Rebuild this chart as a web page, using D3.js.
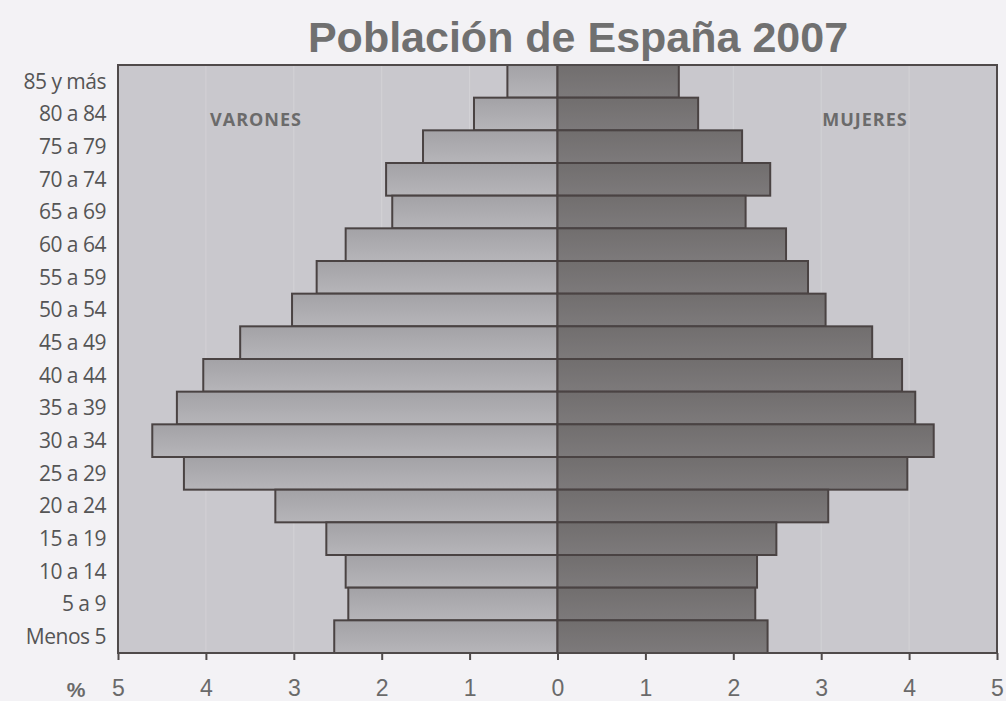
<!DOCTYPE html>
<html>
<head>
<meta charset="utf-8">
<script src="https://cdn.jsdelivr.net/npm/d3@7"></script>
<style>
  body { margin: 0; background: #f3f2f5; }
  svg { display: block; }
</style>
</head>
<body>
<div id="chart"></div>
<script>
// age groups, top to bottom
var ageGroups = ["85 y más", "80 a 84", "75 a 79", "70 a 74", "65 a 69", "60 a 64",
  "55 a 59", "50 a 54", "45 a 49", "40 a 44", "35 a 39", "30 a 34",
  "25 a 29", "20 a 24", "15 a 19", "10 a 14", "5 a 9", "Menos 5"];

// % of total population
var varones = [0.57, 0.95, 1.53, 1.95, 1.88, 2.41, 2.74, 3.02, 3.61, 4.03,
  4.33, 4.61, 4.25, 3.21, 2.63, 2.41, 2.38, 2.54];
var mujeres = [1.38, 1.60, 2.10, 2.42, 2.14, 2.60, 2.85, 3.05, 3.58, 3.92,
  4.07, 4.28, 3.98, 3.08, 2.49, 2.27, 2.25, 2.39];

var xTicks = [-5, -4, -3, -2, -1, 0, 1, 2, 3, 4, 5];

var W = 1006, H = 701;
var margin = { top: 65, right: 9, bottom: 48, left: 118 };
var width = W - margin.left - margin.right;
var height = H - margin.top - margin.bottom;

var svg = d3.select("#chart").append("svg")
  .attr("width", W)
  .attr("height", H);

var defs = svg.append("defs");
var gM = defs.append("linearGradient").attr("id", "gradM")
  .attr("x1", 0).attr("y1", 0).attr("x2", 0).attr("y2", 1);
gM.append("stop").attr("offset", "0%").attr("stop-color", "#a3a2a6");
gM.append("stop").attr("offset", "100%").attr("stop-color", "#b6b5b9");
var gF = defs.append("linearGradient").attr("id", "gradF")
  .attr("x1", 0).attr("y1", 0).attr("x2", 0).attr("y2", 1);
gF.append("stop").attr("offset", "0%").attr("stop-color", "#716e6e");
gF.append("stop").attr("offset", "100%").attr("stop-color", "#7d7a7b");

// title
svg.append("text")
  .attr("x", 578)
  .attr("y", 52)
  .attr("text-anchor", "middle")
  .style("font-family", "'Liberation Sans', Arial, sans-serif")
  .style("font-weight", "bold")
  .style("font-size", "43px")
  .style("fill", "#707070")
  .text("Población de España 2007");

var g = svg.append("g")
  .attr("transform", "translate(" + margin.left + "," + margin.top + ")");

var x = d3.scaleLinear().domain([-5, 5]).range([0, width]);
var y = d3.scaleBand().domain(ageGroups).range([0, height]).padding(0);

// plot background
g.append("rect")
  .attr("width", width)
  .attr("height", height)
  .attr("fill", "#c9c8cd");

// faint gridlines
g.selectAll(".grid")
  .data(xTicks.filter(function(d) { return Math.abs(d) < 5; }))
  .enter().append("line")
  .attr("class", "grid")
  .attr("x1", function(d) { return x(d); })
  .attr("x2", function(d) { return x(d); })
  .attr("y1", 0)
  .attr("y2", height)
  .attr("stroke", "#d3d2d6")
  .attr("stroke-width", 1);

// men bars (left)
g.selectAll(".bar-m")
  .data(varones)
  .enter().append("rect")
  .attr("class", "bar-m")
  .attr("x", function(d) { return x(-d); })
  .attr("y", function(d, i) { return y(ageGroups[i]); })
  .attr("width", function(d) { return x(0) - x(-d); })
  .attr("height", y.bandwidth())
  .attr("fill", "url(#gradM)")
  .attr("stroke", "#4a4343")
  .attr("stroke-width", 2);

// women bars (right)
g.selectAll(".bar-f")
  .data(mujeres)
  .enter().append("rect")
  .attr("class", "bar-f")
  .attr("x", x(0))
  .attr("y", function(d, i) { return y(ageGroups[i]); })
  .attr("width", function(d) { return x(d) - x(0); })
  .attr("height", y.bandwidth())
  .attr("fill", "url(#gradF)")
  .attr("stroke", "#4a4343")
  .attr("stroke-width", 2);

// frame
g.append("rect")
  .attr("width", width)
  .attr("height", height)
  .attr("fill", "none")
  .attr("stroke", "#4f4a4a")
  .attr("stroke-width", 2);

// sex labels
g.append("text")
  .attr("x", 138)
  .attr("y", 61)
  .attr("text-anchor", "middle")
  .style("font-family", "'Open Sans', sans-serif")
  .style("font-weight", "700")
  .style("font-size", "18px")
  .style("letter-spacing", "1px")
  .style("fill", "#6b6b6b")
  .text("VARONES");

g.append("text")
  .attr("x", 747)
  .attr("y", 61)
  .attr("text-anchor", "middle")
  .style("font-family", "'Open Sans', sans-serif")
  .style("font-weight", "700")
  .style("font-size", "18px")
  .style("letter-spacing", "1px")
  .style("fill", "#6b6b6b")
  .text("MUJERES");

// y labels
var yAxis = g.append("g")
  .call(d3.axisLeft(y).tickSize(0).tickPadding(12));
yAxis.select(".domain").remove();
yAxis.selectAll("text")
  .style("font-family", "'Liberation Sans Narrow', 'Open Sans', sans-serif")
  .style("font-size", "21px")
  .style("letter-spacing", "-0.5px")
  .style("fill", "#555")
  .attr("dy", "0.35em");

// x axis
var xAxis = g.append("g")
  .attr("transform", "translate(0," + height + ")")
  .call(d3.axisBottom(x).tickValues(xTicks).tickSize(7).tickPadding(20)
    .tickFormat(function(d) { return Math.abs(d); }));
xAxis.select(".domain").remove();
xAxis.selectAll("line").attr("stroke", "#4f4a4a").attr("stroke-width", 2);
xAxis.selectAll("text")
  .style("font-family", "'Liberation Sans', Arial, sans-serif")
  .style("font-size", "23px")
  .style("fill", "#6a6a6a");

svg.append("text")
  .attr("x", 76)
  .attr("y", 697)
  .attr("text-anchor", "middle")
  .style("font-family", "'Liberation Sans', Arial, sans-serif")
  .style("font-weight", "bold")
  .style("font-size", "21px")
  .style("fill", "#6a6a6a")
  .text("%");
</script>
</body>
</html>
